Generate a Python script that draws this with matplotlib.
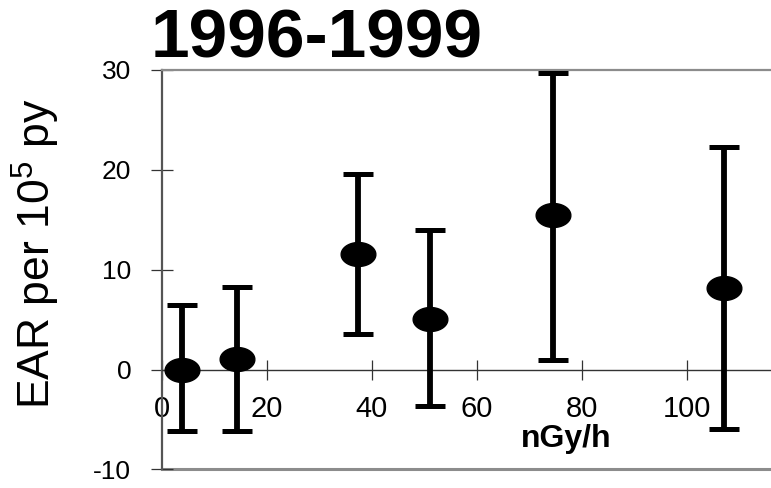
import numpy as np
import matplotlib
matplotlib.use("Agg")
import matplotlib.pyplot as plt
from matplotlib.path import Path

plt.rcParams['font.family'] = ['Liberation Sans', 'DejaVu Sans']
plt.rcParams['mathtext.default'] = 'regular'
plt.rcParams['axes.unicode_minus'] = False

# dose rate (nGy/h) and excess absolute risk with 95% CI
dose = [3.8, 14.3, 37.3, 51.0, 74.5, 107.0]
ear = [0.0, 1.1, 11.6, 5.1, 15.5, 8.2]
ci_low = [-6.2, -6.2, 3.6, -3.6, 1.0, -6.0]
ci_high = [6.5, 8.3, 19.6, 14.0, 29.7, 22.3]

xticks = [0, 20, 40, 60, 80, 100]
yticks = [-10, 0, 10, 20, 30]

ear = np.array(ear)
yerr = [ear - np.array(ci_low), np.array(ci_high) - ear]

# flattened dot like the original
t = np.linspace(0, 2 * np.pi, 60)
ellipse = Path(np.column_stack([np.cos(t), 0.69 * np.sin(t)]))

fig = plt.figure(figsize=(7.71, 4.88), dpi=100)
ax = fig.add_axes([0.21, 0.038, 0.79, 0.819])

ax.errorbar(dose, ear, yerr=yerr, fmt='none', ecolor='black',
            elinewidth=4.2, capsize=11, capthick=3.6, zorder=3)
ax.plot(dose, ear, linestyle='none', marker=ellipse, markersize=25,
        color='black', zorder=4)

ax.set_xlim(0, 116)
ax.set_ylim(-10, 30)
ax.set_xticks(xticks)
ax.set_yticks(yticks)

grey = '#8c8c8c'
ax.spines['right'].set_visible(False)
ax.spines['top'].set_color(grey)
ax.spines['top'].set_linewidth(1.6)
ax.spines['left'].set_color('#555555')
ax.spines['left'].set_linewidth(1.6)
ax.spines['bottom'].set_position(('data', 0))
ax.spines['bottom'].set_color('#333333')
ax.spines['bottom'].set_linewidth(1.0)
ax.axhline(-10, color=grey, linewidth=2.2, clip_on=False, zorder=1)

ax.tick_params(axis='x', direction='inout', length=14, width=0.9,
               colors='#333333', labelcolor='black', labelsize=21, pad=11)
ax.tick_params(axis='y', direction='inout', length=16, width=0.9,
               colors='#333333', labelcolor='black', labelsize=19, pad=14)

ax.text(77, -7.0, 'nGy/h', fontsize=23, fontweight='bold',
        ha='center', va='center')
ax.set_ylabel(r'EAR per 10$^5$ py', fontsize=32)
ax.yaxis.set_label_coords(-0.164, 0.54)

fig.text(0.195, 0.92, '1996-1999', fontsize=50, fontweight='bold',
         ha='left', va='center')

fig.savefig('out.png', dpi=100)
